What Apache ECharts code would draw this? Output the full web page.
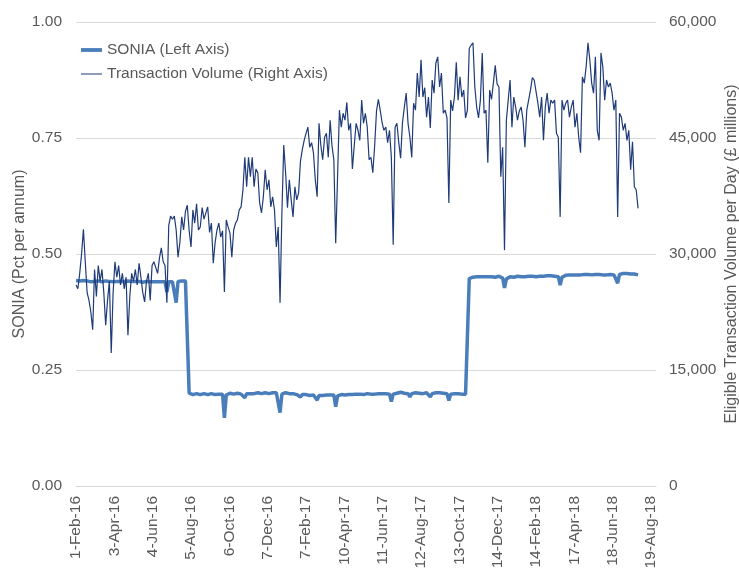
<!DOCTYPE html>
<html>
<head>
<meta charset="utf-8">
<script src="https://cdn.jsdelivr.net/npm/echarts@6/dist/echarts.min.js"></script>
<style>
html,body{margin:0;padding:0;background:#fff;}
#chart{width:739px;height:570px;}
</style>
</head>
<body>
<div id="chart"></div>
<script>
// x-axis: days since 1-Feb-16; one value every STEP_DAYS days
const STEP_DAYS = 3;
const TICK_STEP_DAYS = 62;
const TICK_LABELS = ['1-Feb-16','3-Apr-16','4-Jun-16','5-Aug-16','6-Oct-16','7-Dec-16','7-Feb-17','10-Apr-17','11-Jun-17','12-Aug-17','13-Oct-17','14-Dec-17','14-Feb-18','17-Apr-18','18-Jun-18','19-Aug-18'];
const LEFT_TICKS = [0, 0.25, 0.5, 0.75, 1.0];
const RIGHT_TICKS = [0, 15000, 30000, 45000, 60000];

const SERIES_NAMES = ['SONIA (Left Axis)', 'Transaction Volume (Right Axis)'];

// SONIA, percent per annum
const SONIA = [
0.443,0.443,0.442,0.442,0.443,0.441,0.442,0.442,0.440,0.441,
0.441,0.442,0.442,0.441,0.440,0.441,0.442,0.442,0.441,0.441,
0.440,0.441,0.441,0.442,0.441,0.440,0.441,0.441,0.442,0.441,
0.441,0.440,0.441,0.442,0.441,0.440,0.439,0.440,0.441,0.440,
0.440,0.441,0.440,0.439,0.440,0.441,0.440,0.438,0.440,0.418,
0.440,0.441,0.440,0.440,0.395,0.441,0.442,0.442,0.441,0.442,
0.441,
0.200,0.198,0.197,0.198,0.199,0.198,0.197,0.198,0.199,
0.198,0.197,0.198,0.199,0.198,0.197,0.198,0.198,0.199,0.198,
0.147,0.196,0.199,0.200,0.199,0.198,0.199,0.200,0.199,0.198,
0.199,0.190,0.199,0.200,0.199,0.198,0.199,0.200,0.201,0.200,
0.199,0.200,0.201,0.200,0.199,0.200,0.201,0.202,0.201,0.200,
0.158,0.198,0.200,0.201,0.200,0.199,0.198,0.199,0.198,0.197,
0.197,0.192,0.197,0.196,0.197,0.196,0.195,0.196,0.196,0.195,
0.185,0.195,0.196,0.195,0.196,0.196,0.195,0.196,0.197,0.196,
0.171,0.194,0.196,0.197,0.197,0.196,0.197,0.197,0.198,0.197,
0.197,0.198,0.197,0.198,0.198,0.197,0.198,0.199,0.198,0.198,
0.199,0.198,0.199,0.199,0.198,0.199,0.200,0.199,0.199,0.198,
0.182,0.198,0.199,0.200,0.201,0.202,0.201,0.200,0.200,0.199,
0.192,0.199,0.200,0.201,0.200,0.200,0.200,0.199,0.200,0.201,
0.200,0.192,0.199,0.200,0.201,0.202,0.201,0.200,0.200,0.199,
0.199,0.184,0.198,0.199,0.199,0.198,0.199,0.199,0.198,0.199,
0.198,0.198,
0.447,0.449,0.450,0.450,0.451,0.450,0.451,0.450,
0.451,0.450,0.451,0.450,0.451,0.451,0.450,0.451,0.452,0.451,
0.448,0.427,0.446,0.450,0.451,0.451,0.450,0.451,0.452,0.451,
0.451,0.452,0.451,0.452,0.452,0.451,0.452,0.452,0.451,0.452,
0.452,0.453,0.452,0.453,0.453,0.452,0.453,0.453,0.452,0.452,
0.451,0.433,0.450,0.453,0.454,0.454,0.455,0.454,0.455,0.455,
0.455,0.456,0.455,0.456,0.456,0.455,0.456,0.456,0.455,0.456,
0.456,0.455,0.456,0.456,0.455,0.456,0.455,0.455,0.456,0.455,
0.455,0.454,0.437,0.456,0.458,0.458,0.457,0.458,0.457,0.457,
0.456,0.457,0.456,0.455
];

// Eligible transaction volume per day, GBP millions
const VOLUME = [
26000,25500,27500,30000,33200,29000,25000,24000,22500,20200,
28000,24500,28500,26500,28000,25000,20800,24000,26500,17200,
25000,29000,27000,28500,26000,27500,25500,27000,19500,24500,
27500,26500,28000,26000,28800,27000,25000,23800,26500,27500,
24000,28500,29000,28800,27500,29500,30800,29000,28500,23700,
33700,34900,34500,34900,33100,29600,31500,34800,33100,35500,
36300,33000,30900,35700,34000,36500,33100,33500,36000,34500,
34400,36100,32800,34000,28800,31500,33100,34000,32200,33000,
25100,34400,33500,32700,29600,33100,34000,34400,35700,36100,
38300,42500,38700,42500,40000,42500,38700,41000,40500,36600,
35300,37400,40900,38300,39600,36100,37400,35700,30900,33500,
23700,35300,44100,40500,36000,39600,37000,34800,38700,37000,
37900,42000,43500,44700,45600,46400,43800,44400,43100,39600,
37400,46900,44000,42200,45100,45600,42500,47300,44000,42200,
31400,40000,48600,46400,48200,47300,49600,46000,46900,41000,
44000,46900,46000,44700,49900,46900,48200,46400,42200,42500,
40500,44000,48500,50000,48600,47000,46000,46400,44400,46000,
42500,31200,46400,46900,44400,42400,47000,49000,50800,46900,
45100,42500,49500,48600,53400,50300,55100,50300,51500,47700,
50300,46300,52500,50800,54700,55500,51600,53400,48200,48600,
47600,36600,49900,48500,50300,54800,49900,52900,50300,51200,
47600,48600,56600,57000,57300,51600,49000,47600,49900,56000,
48200,48600,41800,51200,50000,52100,54400,52000,51600,40000,
43800,30500,47300,49900,52500,46400,50300,49000,47300,48500,
49000,47300,43800,48600,48600,51200,52800,52500,52500,49500,
47700,50300,44700,49000,50800,48200,49900,49500,49900,45600,
45100,34800,49900,48600,49500,49900,47700,49000,49900,46400,
48200,45100,43100,52900,52100,54200,57300,55100,52100,50800,
55500,46000,44700,56000,54200,49900,52500,51600,52100,50800,
48600,49900,34800,48200,47700,46000,46900,44700,46000,40900,
44500,38700,38300,35900
];

const COLORS = ['#4A7EBB', '#1F3B78'];
const TEXT = '#595959';
const GRID = '#D9D9D9';
const FONT = '"Liberation Sans", Arial, sans-serif';
const FS = 15.5;
const NAME_FS = 16;

function withCommas(v) {
  return String(Math.round(v)).replace(/\B(?=(\d{3})+(?!\d))/g, ',');
}

const chart = echarts.init(document.getElementById('chart'), null, {renderer: 'canvas'});
chart.setOption({
  animation: false,
  backgroundColor: '#ffffff',
  textStyle: {fontFamily: FONT},
  grid: {left: 76, right: 83, top: 22, bottom: 84, containLabel: false, outerBoundsMode: 'none'},
  legend: {
    orient: 'vertical',
    left: 76,
    top: 37,
    itemWidth: 21,
    itemHeight: 4,
    itemGap: 8,
    textStyle: {fontSize: FS, color: TEXT, fontFamily: FONT},
    data: [
      {name: SERIES_NAMES[0], icon: 'path://M0,0H22V4H0Z'},
      {name: SERIES_NAMES[1], icon: 'path://M0,0H22V0.02H0Z M0,1.4H22V2.6H0Z M0,3.98H22V4H0Z'}
    ]
  },
  xAxis: {
    type: 'value',
    min: 0,
    max: 938,
    interval: TICK_STEP_DAYS,
    axisLine: {show: true, lineStyle: {color: GRID, width: 1}},
    axisTick: {show: false},
    splitLine: {show: false},
    axisLabel: {
      rotate: 90,
      margin: 10,
      color: TEXT,
      fontSize: FS,
      fontFamily: FONT,
      formatter: function (v) {
        if (v % TICK_STEP_DAYS !== 0) return '';
        const k = v / TICK_STEP_DAYS;
        return TICK_LABELS[k] || '';
      }
    }
  },
  yAxis: [
    {
      type: 'value',
      position: 'left',
      min: LEFT_TICKS[0],
      max: LEFT_TICKS[LEFT_TICKS.length - 1],
      interval: LEFT_TICKS[1] - LEFT_TICKS[0],
      name: 'SONIA (Pct per annum)',
      nameLocation: 'middle',
      nameGap: 48,
      nameMoveOverlap: false,
      nameTextStyle: {fontSize: NAME_FS, color: TEXT, fontFamily: FONT},
      axisLine: {show: false},
      axisTick: {show: false},
      splitLine: {show: true, lineStyle: {color: GRID, width: 1}},
      axisLabel: {color: TEXT, fontSize: FS, fontFamily: FONT, margin: 14,
        formatter: function (v) { return v.toFixed(2); }}
    },
    {
      type: 'value',
      position: 'right',
      min: RIGHT_TICKS[0],
      max: RIGHT_TICKS[RIGHT_TICKS.length - 1],
      interval: RIGHT_TICKS[1] - RIGHT_TICKS[0],
      name: 'Eligible Transaction Volume per Day (£ millions)',
      nameLocation: 'middle',
      nameGap: 68,
      nameMoveOverlap: false,
      nameTextStyle: {fontSize: NAME_FS, color: TEXT, fontFamily: FONT},
      axisLine: {show: false},
      axisTick: {show: false},
      splitLine: {show: false},
      axisLabel: {color: TEXT, fontSize: FS, fontFamily: FONT, margin: 13,
        formatter: withCommas}
    }
  ],
  series: [
    {
      name: SERIES_NAMES[0],
      type: 'line',
      yAxisIndex: 0,
      symbol: 'none',
      z: 2,
      color: COLORS[0],
      lineStyle: {color: COLORS[0], width: 3.5},
      data: SONIA.map(function (v, i) { return [i * STEP_DAYS, v]; })
    },
    {
      name: SERIES_NAMES[1],
      type: 'line',
      yAxisIndex: 1,
      symbol: 'none',
      z: 3,
      color: COLORS[1],
      lineStyle: {color: COLORS[1], width: 1.2},
      data: VOLUME.map(function (v, i) { return [i * STEP_DAYS, v]; })
    }
  ]
});
</script>
</body>
</html>
